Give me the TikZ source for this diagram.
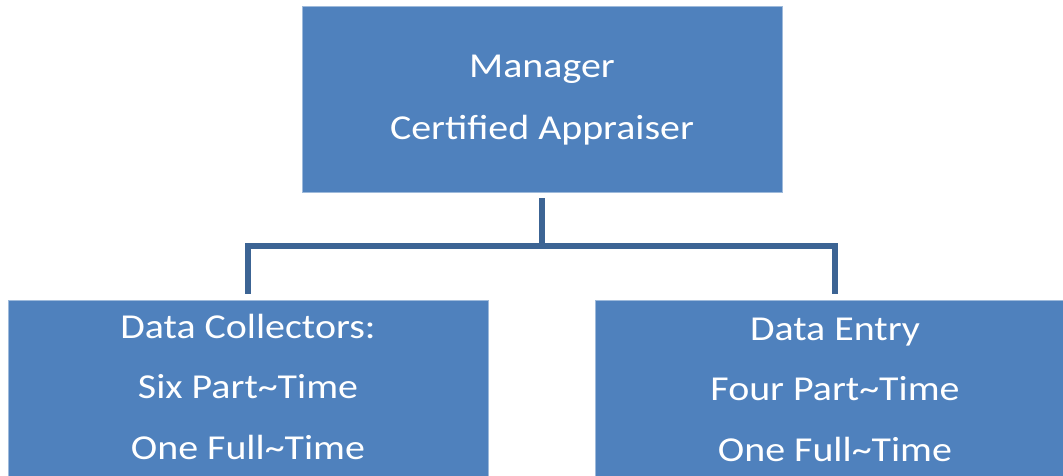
\documentclass[tikz,border=0pt]{standalone}
\usepackage{fontspec}
\setmainfont{Carlito}[FakeStretch=1.14]
\definecolor{boxblue}{HTML}{4F81BD}
\definecolor{linkblue}{HTML}{3C6494}
\begin{document}
\begin{tikzpicture}[x=1pt,y=-1pt,
    box/.style={draw=boxblue!55!white, line width=0.8pt, fill=boxblue,
                minimum width=480pt, inner sep=0pt},
    txt/.style={text=white, anchor=base, inner sep=0pt,
                font=\fontsize{35}{40}\selectfont},
    link/.style={draw=linkblue, line width=5.5pt}]
  \useasboundingbox (0,0) rectangle (1063,476);
  \clip (0,0) rectangle (1063,476);
  % the three boxes
  \node[box, minimum height=186pt] (mgr) at (542,99) {};
  \node[box, minimum height=200pt] (col) at (248,400) {};
  \node[box, minimum height=200pt] (ent) at (835,400) {};
  % texts
  \node[txt] (mgrA) at (542,77.7) {Manager};
  \node[txt] (mgrB) at (542,140) {Certified Appraiser};
  \node[txt] (colA) at (248,338) {Data Collectors:};
  \node[txt] (colB) at (248,398) {Six Part\textasciitilde Time};
  \node[txt] (colC) at (248,459) {One Full\textasciitilde Time};
  \node[txt] (entA) at (835,340) {Data Entry};
  \node[txt] (entB) at (835,400) {Four Part\textasciitilde Time};
  \node[txt] (entC) at (835,461) {One Full\textasciitilde Time};
  % connectors
  \coordinate (bus) at (542,246);
  \draw[link] ([yshift=-6pt]mgr.south) -- (bus);
  \draw[link] ([yshift=6pt]col.north) |- (bus) -| ([yshift=6pt]ent.north);
\end{tikzpicture}
\end{document}
